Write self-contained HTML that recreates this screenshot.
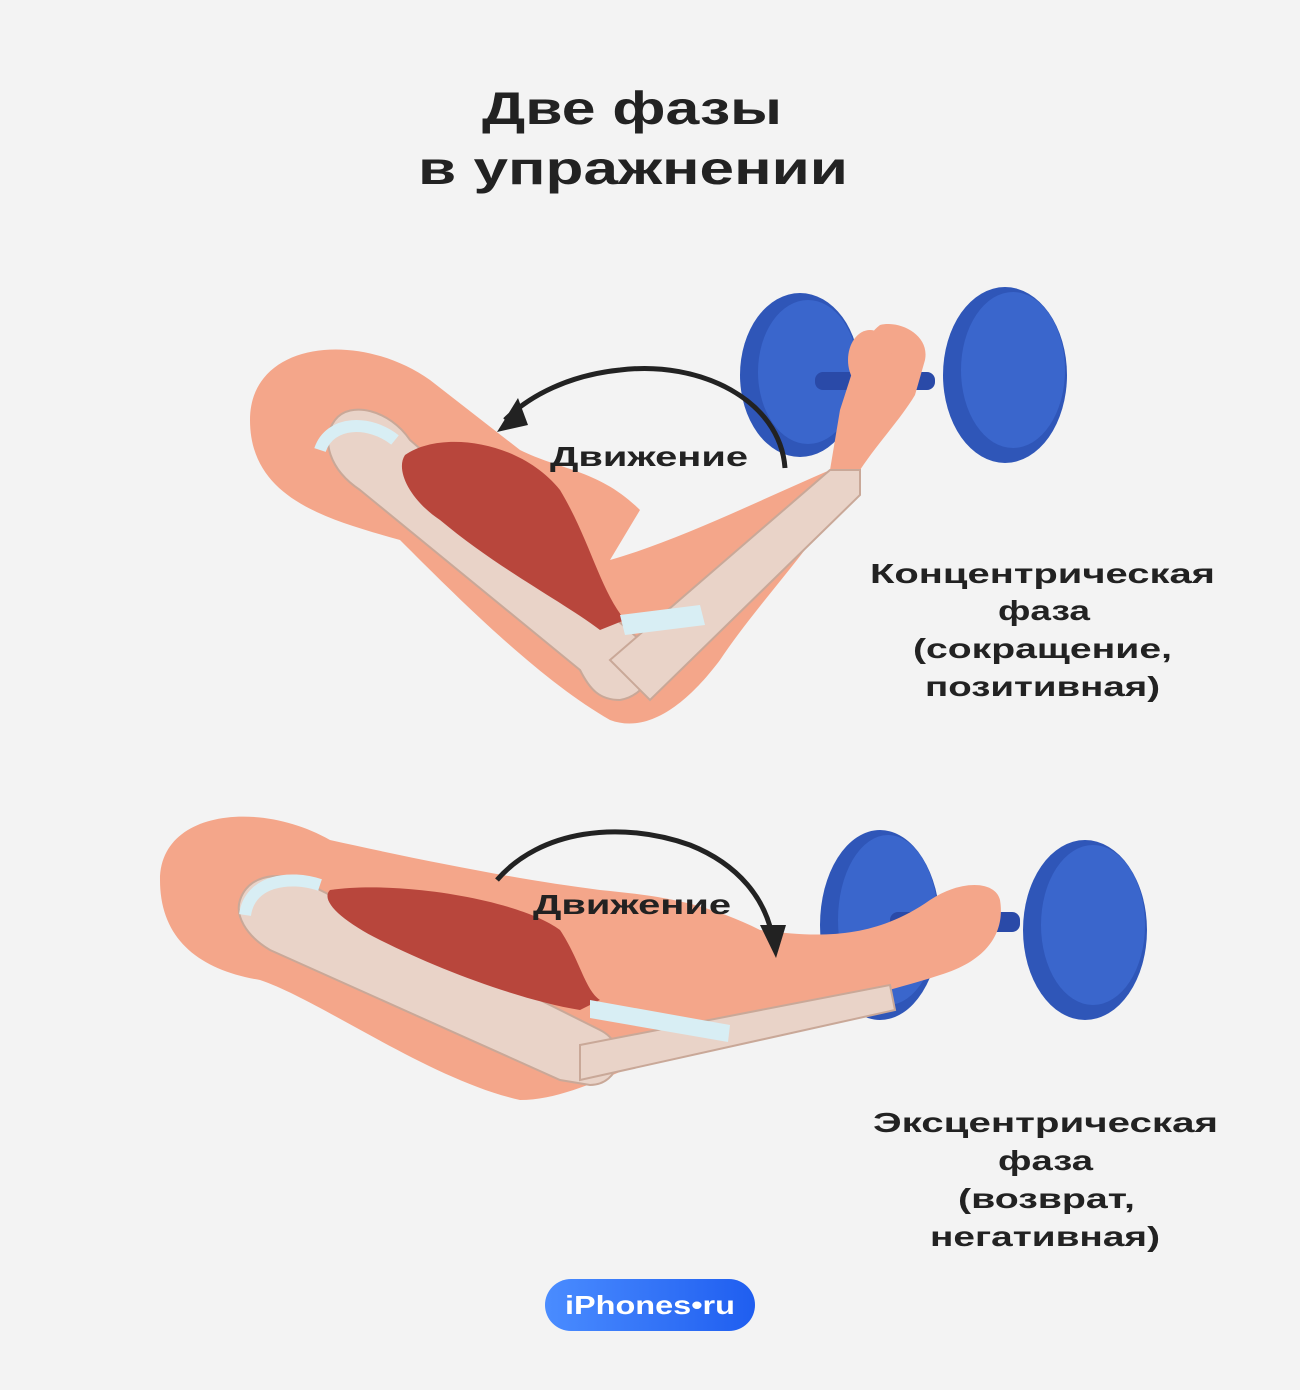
<!DOCTYPE html>
<html><head><meta charset="utf-8"><style>
body{margin:0;background:#f3f3f3;}
svg{display:block}
text{font-family:"Liberation Sans",sans-serif;font-weight:bold;fill:#222}
</style></head><body>
<svg width="1300" height="1390" viewBox="0 0 1300 1390">
<rect width="1300" height="1390" fill="#f3f3f3"/>
<text x="482" y="124" font-size="46" textLength="300" lengthAdjust="spacingAndGlyphs">Две фазы</text>
<text x="418" y="184" font-size="46" textLength="430" lengthAdjust="spacingAndGlyphs">в упражнении</text>

<!-- TOP ARM -->
<g>
<ellipse cx="800" cy="375" rx="60" ry="82" fill="#2f56b8"/>
<ellipse cx="808" cy="372" rx="50" ry="72" fill="#3a66cc"/>
<rect x="815" y="372" width="120" height="18" rx="8" fill="#2a4aa8"/>
<path d="M250,420 C250,340 360,330 430,380 L520,450 C560,470 600,470 640,510 L610,560 C680,540 760,500 830,470 L840,410 C850,380 860,340 880,325 C900,320 930,335 925,360 L915,395 C900,420 880,440 860,470 C820,540 760,600 720,660 C690,700 650,735 610,720 C540,680 460,600 400,540 C330,520 250,500 250,420 Z" fill="#f4a68a"/>
<path d="M335,420 C350,400 390,410 410,440 L640,640 C660,660 650,695 620,700 C600,700 590,690 580,670 L360,490 C330,470 320,440 335,420 Z" fill="#e9d3c8" stroke="#c9a898" stroke-width="2"/>
<path d="M610,660 L830,470 L860,470 L860,495 L650,700 Z" fill="#e9d3c8" stroke="#c9a898" stroke-width="2"/>
<path d="M405,455 C440,430 520,440 560,490 C590,540 600,590 625,620 L600,630 C560,600 500,570 440,520 C410,500 395,470 405,455 Z" fill="#b8463c"/>
<path d="M620,615 L700,605 L705,625 L625,635 Z" fill="#d8eef4"/>
<path d="M320,450 C330,420 370,420 395,440" stroke="#d8eef4" stroke-width="12" fill="none"/>
<ellipse cx="870" cy="360" rx="22" ry="30" fill="#f4a68a"/>
<ellipse cx="1005" cy="375" rx="62" ry="88" fill="#2f56b8"/>
<ellipse cx="1013" cy="370" rx="52" ry="78" fill="#3a66cc"/>
<path d="M785,468 C780,400 700,360 620,370 C570,375 530,395 505,420" stroke="#222" stroke-width="5" fill="none"/>
<path d="M497,432 L518,398 L528,425 Z" fill="#222"/>
<text x="550" y="466" font-size="28" textLength="198" lengthAdjust="spacingAndGlyphs">Движение</text>
</g>
<text x="870" y="583" font-size="28" textLength="345" lengthAdjust="spacingAndGlyphs">Концентрическая</text>
<text x="998" y="620" font-size="28" textLength="92" lengthAdjust="spacingAndGlyphs">фаза</text>
<text x="913" y="658" font-size="28" textLength="259" lengthAdjust="spacingAndGlyphs">(сокращение,</text>
<text x="925" y="696" font-size="28" textLength="235" lengthAdjust="spacingAndGlyphs">позитивная)</text>

<!-- BOTTOM ARM -->
<g>
<ellipse cx="880" cy="925" rx="60" ry="95" fill="#2f56b8"/>
<ellipse cx="888" cy="920" rx="50" ry="85" fill="#3a66cc"/>
<rect x="890" y="912" width="130" height="20" rx="8" fill="#2a4aa8"/>
<path d="M160,880 C160,810 260,800 330,840 C420,860 520,880 600,890 C650,895 700,900 760,930 C830,940 880,935 930,900 C960,880 995,880 1000,900 C1005,930 990,960 940,975 C880,995 760,1020 660,1055 C600,1080 560,1100 520,1100 C430,1080 320,1000 260,980 C200,970 160,940 160,880 Z" fill="#f4a68a"/>
<path d="M240,900 C250,870 290,870 320,890 L600,1030 C630,1045 620,1085 590,1085 L560,1080 L270,950 C245,935 235,915 240,900 Z" fill="#e9d3c8" stroke="#c9a898" stroke-width="2"/>
<path d="M580,1045 L890,985 L895,1010 L580,1080 Z" fill="#e9d3c8" stroke="#c9a898" stroke-width="2"/>
<path d="M330,890 C400,880 520,900 560,930 C580,960 585,990 600,1000 L580,1010 C520,1000 440,970 380,940 C340,920 320,900 330,890 Z" fill="#b8463c"/>
<path d="M590,1000 L730,1025 L728,1042 L590,1018 Z" fill="#d8eef4"/>
<path d="M245,915 C250,880 290,875 320,885" stroke="#d8eef4" stroke-width="12" fill="none"/>
<ellipse cx="1085" cy="930" rx="62" ry="90" fill="#2f56b8"/>
<ellipse cx="1093" cy="925" rx="52" ry="80" fill="#3a66cc"/>
<path d="M497,880 C540,830 620,820 690,845 C740,865 765,900 772,935" stroke="#222" stroke-width="5" fill="none"/>
<path d="M760,925 L786,925 L776,958 Z" fill="#222"/>
<text x="533" y="914" font-size="28" textLength="198" lengthAdjust="spacingAndGlyphs">Движение</text>
</g>
<text x="873" y="1132" font-size="28" textLength="345" lengthAdjust="spacingAndGlyphs">Эксцентрическая</text>
<text x="998" y="1170" font-size="28" textLength="95" lengthAdjust="spacingAndGlyphs">фаза</text>
<text x="958" y="1208" font-size="28" textLength="177" lengthAdjust="spacingAndGlyphs">(возврат,</text>
<text x="930" y="1246" font-size="28" textLength="230" lengthAdjust="spacingAndGlyphs">негативная)</text>

<defs><linearGradient id="g" x1="0" x2="1"><stop offset="0" stop-color="#4a8cff"/><stop offset="1" stop-color="#1f5ef0"/></linearGradient></defs>
<rect x="545" y="1279" width="210" height="52" rx="26" fill="url(#g)"/>
<text x="565" y="1314" font-size="26" textLength="170" lengthAdjust="spacingAndGlyphs" style="fill:#fff">iPhones•ru</text>
</svg>
</body></html>
